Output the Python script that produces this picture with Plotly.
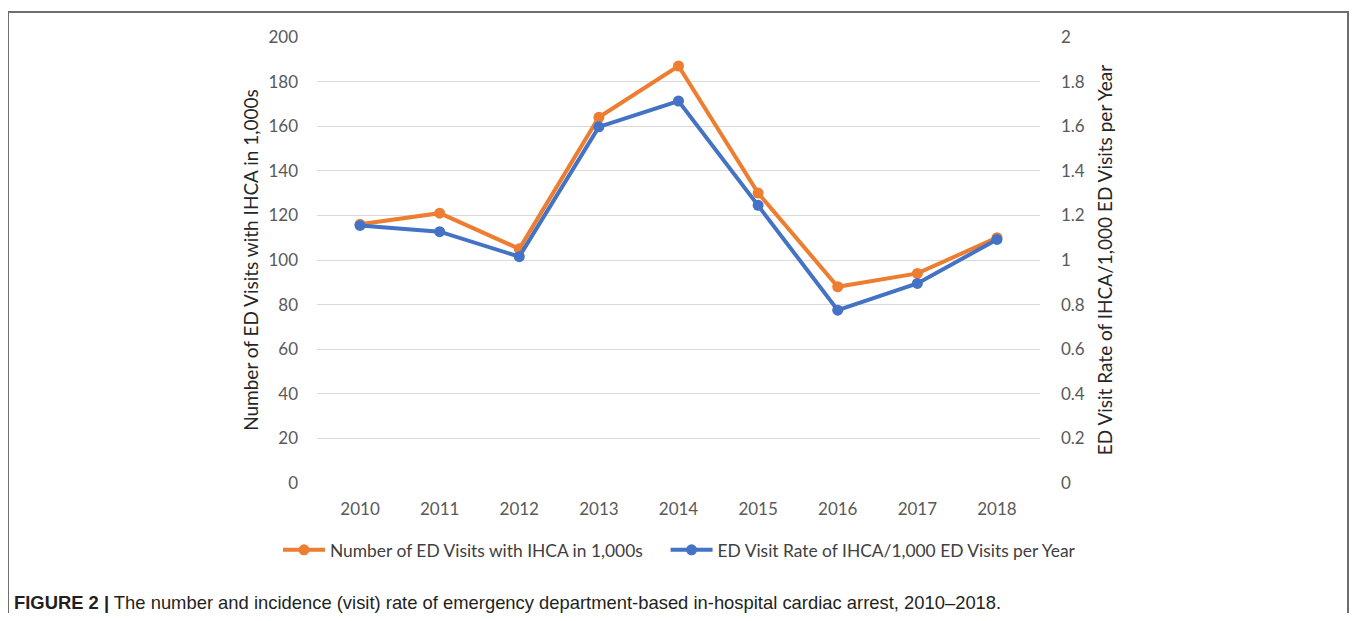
import plotly.graph_objects as go

years = ["2010", "2011", "2012", "2013", "2014", "2015", "2016", "2017", "2018"]
visits_thousands = [116, 121, 105, 164, 187, 130, 88, 94, 110]
rate_per_1000 = [1.155, 1.127, 1.015, 1.597, 1.713, 1.245, 0.775, 0.895, 1.092]

orange = "#ED7D31"
blue = "#4472C4"
tick_color = "#595959"
grid_color = "#D9D9D9"
font_family = "Lato, 'Open Sans', sans-serif"
NB = "\u00a0"

# the page body has an 8px default margin; work in page pixels and offset
OFF = 8
W, H = 1357 - 2 * OFF, 621 - 2 * OFF
left_px, right_px, top_px, bottom_px = 317, 1040, 37, 483
ml, mr = left_px - OFF, W - (right_px - OFF)
mt, mb = top_px - OFF, H - (bottom_px - OFF)
pw, ph = W - ml - mr, H - mt - mb


def px_x(px):
    return (px - OFF - ml) / pw


def px_y(py):
    return (H - mb - (py - OFF)) / ph


fig = go.Figure()
fig.add_trace(go.Scatter(
    x=years, y=visits_thousands, name="Number of ED Visits with IHCA in 1,000s" + NB * 4,
    mode="lines+markers", line=dict(color=orange, width=4),
    marker=dict(color=orange, size=11), yaxis="y"))
fig.add_trace(go.Scatter(
    x=years, y=rate_per_1000, name="ED Visit Rate of IHCA/1,000 ED Visits per Year",
    mode="lines+markers", line=dict(color=blue, width=4),
    marker=dict(color=blue, size=11), yaxis="y2"))

fig.update_layout(
    width=W, height=H,
    margin=dict(l=ml, r=mr, t=mt, b=mb),
    paper_bgcolor="white", plot_bgcolor="white",
    font=dict(family=font_family, color=tick_color, size=17),
    xaxis=dict(type="category", showgrid=False, showline=False, zeroline=False,
               ticks="", ticklabelstandoff=14,
               tickfont=dict(size=17, color=tick_color)),
    yaxis=dict(range=[0, 200], dtick=20, showgrid=True, gridcolor=grid_color, gridwidth=1,
               zeroline=False, showline=False, ticks="", ticklabelstandoff=18,
               tickfont=dict(size=17, color=tick_color),
               title=dict(text="Number of ED Visits with IHCA in 1,000s",
                          font=dict(size=19, color="#262626"), standoff=4)),
    yaxis2=dict(range=[0, 2], dtick=0.2, overlaying="y", side="right", showgrid=False,
                zeroline=False, showline=False, ticks="", ticklabelstandoff=20,
                tickfont=dict(size=17, color=tick_color),
                title=dict(text="ED Visit Rate of IHCA/1,000 ED Visits per Year",
                           font=dict(size=19, color="#262626"), standoff=14)),
    legend=dict(orientation="h", x=px_x(278), xanchor="left",
                y=px_y(550), yanchor="middle",
                font=dict(size=17.4, color="#404040"), itemwidth=42, traceorder="normal"),
    showlegend=True,
)

fig.add_shape(type="rect", xref="paper", yref="paper",
              x0=px_x(8), x1=px_x(1348), y0=px_y(640), y1=px_y(12),
              line=dict(color="#6E6E6E", width=2), fillcolor="rgba(0,0,0,0)", layer="below")

fig.add_annotation(
    xref="paper", yref="paper", x=px_x(12), y=px_y(602), xanchor="left", yanchor="middle",
    showarrow=False,
    text="<b>FIGURE 2 |</b> The number and incidence (visit) rate of emergency department-based in-hospital cardiac arrest, 2010–2018.",
    font=dict(family="'Liberation Sans', Arial, sans-serif", size=18.4, color="#231F20"))

fig.write_html("out.html")
